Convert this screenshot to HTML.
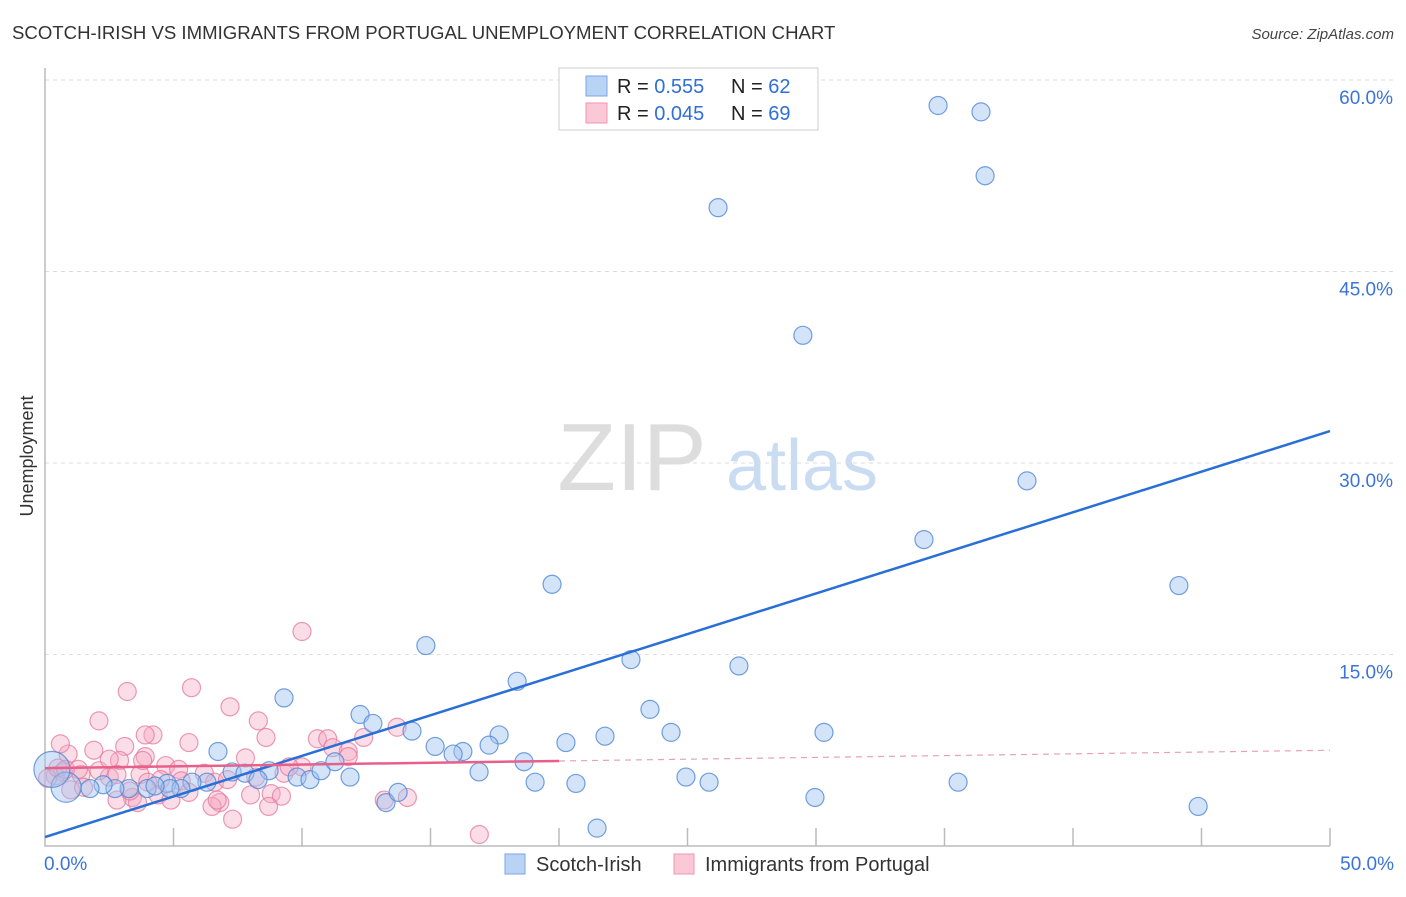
<!DOCTYPE html>
<html><head><meta charset="utf-8"><style>
body{margin:0;background:#fff;font-family:"Liberation Sans",sans-serif;}
svg text{font-family:"Liberation Sans",sans-serif;}
</style></head><body>
<svg id="chart" width="1406" height="892" xmlns="http://www.w3.org/2000/svg">
<text x="12" y="39" font-size="18.6" fill="#333">SCOTCH-IRISH VS IMMIGRANTS FROM PORTUGAL UNEMPLOYMENT CORRELATION CHART</text>
<text x="1394" y="39" font-size="15" fill="#444" font-style="italic" text-anchor="end">Source: ZipAtlas.com</text>
<text transform="translate(33,456) rotate(-90)" font-size="18" fill="#333" text-anchor="middle">Unemployment</text>
<g>
<text x="632" y="490" font-size="96" fill="#ddd" text-anchor="middle" font-family="Liberation Serif,serif">ZIP</text>
<text x="802" y="490" font-size="72" fill="#c9dcf2" text-anchor="middle">atlas</text>
</g>
<g id="grid"></g>
<g id="axes"></g>
<g id="pts"></g>
<g id="lines"></g>
<g>
<rect x="559" y="68" width="259" height="62" fill="#fff" stroke="#ccc"/>
<rect x="586" y="76" width="21" height="20" fill="#b9d3f5" stroke="#7aa6e6"/>
<rect x="586" y="103" width="21" height="20" fill="#fac8d6" stroke="#ee96b0"/>
<text x="617" y="93" font-size="20" fill="#222">R = <tspan fill="#2f6fd6">0.555</tspan></text>
<text x="731" y="93" font-size="20" fill="#222">N = <tspan fill="#2f6fd6">62</tspan></text>
<text x="617" y="120" font-size="20" fill="#222">R = <tspan fill="#2f6fd6">0.045</tspan></text>
<text x="731" y="120" font-size="20" fill="#222">N = <tspan fill="#2f6fd6">69</tspan></text>
</g>
<g>
<rect x="505" y="854" width="20" height="20" fill="#b9d3f5" stroke="#7aa6e6"/>
<text x="536" y="871" font-size="20" fill="#333">Scotch-Irish</text>
<rect x="674" y="854" width="20" height="20" fill="#fac8d6" stroke="#ee96b0"/>
<text x="705" y="871" font-size="20" fill="#333">Immigrants from Portugal</text>
</g>
</svg>
<script>
const yTicks=[15,30,45,60];
const xTickLabels=["0.0%","50.0%"];
const blueX=[34.75,36.42,36.58,26.19,29.49,38.21,34.20,19.73,44.12,14.82,22.80,27.00,18.37,9.30,23.54,12.26,12.76,14.28,17.67,24.36,30.31,6.73,15.18,16.26,15.88,17.28,20.27,21.79,18.64,16.89,11.87,9.81,10.31,10.74,11.28,8.72,7.28,7.78,8.29,6.30,5.72,4.75,5.29,3.97,3.27,2.72,2.26,1.75,0.82,0.27,19.07,20.66,24.94,25.84,35.53,29.96,44.87,21.48,13.27,13.74,4.86,4.28];
const blueY=[58.0,57.5,52.5,50.0,40.0,28.6,24.0,20.5,20.4,15.7,14.6,14.1,12.9,11.6,10.7,10.3,9.6,9.0,8.7,8.9,8.9,7.4,7.8,7.4,7.2,7.9,8.1,8.6,6.6,5.8,5.4,5.4,5.2,5.9,6.6,5.9,5.8,5.7,5.2,5.0,5.0,4.9,4.5,4.5,4.5,4.5,4.8,4.5,4.6,6.0,5.0,4.9,5.4,5.0,5.0,3.8,3.1,1.4,3.4,4.2,4.5,4.7];
const blueR=[9,9,9,9,9,9,9,9,9,9,9,9,9,9,9,9,9,9,9,9,9,9,9,9,9,9,9,9,9,9,9,9,9,9,9,9,9,9,9,9,9,9,9,9,9,9,9,9,15,18,9,9,9,9,9,9,9,9,9,9,9,9];
const pinkX=[10.0,3.2,5.7,2.1,7.2,8.3,4.2,3.9,8.6,5.6,3.1,1.9,0.9,0.6,3.9,2.9,7.8,10.6,11.0,11.2,11.8,12.4,13.7,11.8,10.0,9.3,9.5,4.7,5.2,6.2,3.7,2.5,1.4,0.7,0.4,0.1,2.8,4.0,4.5,8.2,6.6,7.1,5.3,4.4,3.4,3.6,2.8,3.3,1.0,1.5,8.0,8.8,9.2,6.8,6.5,6.7,7.3,8.7,14.1,13.2,16.9,0.5,0.8,1.3,2.1,5.6,4.9,3.8,2.5];
const pinkY=[16.8,12.1,12.4,9.8,10.9,9.8,8.7,8.7,8.5,8.1,7.8,7.5,7.2,8.0,7.0,6.7,6.9,8.4,8.4,7.7,7.4,8.5,9.3,7.0,6.2,5.7,6.2,6.3,6.0,5.7,5.6,5.4,5.6,5.8,5.5,5.3,5.6,5.0,5.2,5.4,5.0,5.2,5.1,4.0,3.8,3.4,3.6,4.3,4.4,4.6,4.0,4.1,3.9,3.4,3.1,3.6,2.1,3.1,3.8,3.6,0.9,6.1,6.0,6.0,5.9,4.2,3.6,6.7,6.8];
const blueLine=[0.7,32.5];
const pinkLine=[6.1,7.5];
const NS="http://www.w3.org/2000/svg";
const X0=45,X1=1330,Y0=846,PPY=12.767;
function sx(v){return X0+(v/50)*(X1-X0);}
function sy(v){return Y0-v*PPY;}
function mk(tag,attrs,parent){const e=document.createElementNS(NS,tag);for(const k in attrs)e.setAttribute(k,attrs[k]);parent.appendChild(e);return e;}
const grid=document.getElementById('grid'),axes=document.getElementById('axes'),pts=document.getElementById('pts'),lines=document.getElementById('lines');
yTicks.forEach(t=>{
 const l=mk('line',{x1:X0,x2:1394,y1:sy(t),y2:sy(t),stroke:'#ddd','stroke-dasharray':'4,4'},grid);
 
 
 const tx=mk('text',{x:1393,y:sy(t)+24,'font-size':19,fill:'#3a74d8','text-anchor':'end'},grid);
 tx.textContent=t.toFixed(1)+'%';
 
 
});
const ax=mk('path',{d:`M${X0} 68V${Y0}H${X1}`,stroke:'#bbb',fill:'none','stroke-width':1.5},axes);


for(let v=5;v<=50;v+=5){
 const t=mk('line',{x1:sx(v),x2:sx(v),y1:828,y2:Y0,stroke:'#bbb','stroke-width':1.5},axes);
 
 
}
[[0,'start',44],[50,'end',1394]].forEach((d,i)=>{
 const tx=mk('text',{x:d[2],y:870,'font-size':19,fill:'#3a74d8','text-anchor':d[1]},axes);
 tx.textContent=xTickLabels[i];
 
 
});
pinkX.forEach((x,i)=>{
 const c=mk('circle',{cx:sx(x),cy:sy(pinkY[i]),r:9,fill:'rgba(246,170,195,0.4)',stroke:'rgba(230,120,155,0.75)','stroke-width':1.2},pts);
 
 
});
blueX.forEach((x,i)=>{
 const c=mk('circle',{cx:sx(x),cy:sy(blueY[i]),r:blueR[i],fill:'rgba(160,195,240,0.45)',stroke:'rgba(80,135,215,0.8)','stroke-width':1.2},pts);
 
 
});
const bl=mk('line',{x1:sx(0),y1:sy(blueLine[0]),x2:sx(50),y2:sy(blueLine[1]),stroke:'#2a6fd6','stroke-width':2.5},lines);


const pm=pinkLine[0]+(pinkLine[1]-pinkLine[0])*0.4;
const pl=mk('line',{x1:sx(0),y1:sy(pinkLine[0]),x2:sx(20),y2:sy(pm),stroke:'#e8608a','stroke-width':2.5},lines);


const pd=mk('line',{x1:sx(20),y1:sy(pm),x2:sx(50),y2:sy(pinkLine[1]),stroke:'#e8a0b8','stroke-width':1.2,'stroke-dasharray':'6,5'},lines);


</script>
</body></html>
